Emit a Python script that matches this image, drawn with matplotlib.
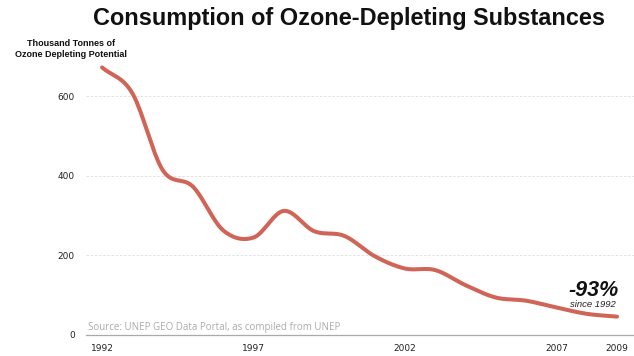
import matplotlib
matplotlib.use("Agg")
import matplotlib.pyplot as plt
import numpy as np

# Consumption of ozone-depleting substances, thousand tonnes ODP
YEARS = [1992, 1993, 1994, 1995, 1996, 1997, 1998, 1999, 2000, 2001,
         2002, 2003, 2004, 2005, 2006, 2007, 2008, 2009]
ODP_KT = [672, 607, 414, 372, 262, 244, 311, 260, 248, 197,
          166, 162, 124, 93, 85, 68, 52, 45]
YTICKS = [0, 200, 400, 600]
XTICKS = [1992, 1997, 2002, 2007, 2009]

LINE_COLOR = "#cf6457"


def _smooth(x, y, n=20):
    """Catmull-Rom curve through the yearly points, just for drawing."""
    x = np.asarray(x, float)
    y = np.asarray(y, float)
    m = np.gradient(y, x)
    xs, ys = [], []
    for i in range(len(x) - 1):
        h = x[i + 1] - x[i]
        t = np.linspace(0, 1, n, endpoint=False)
        h00 = 2 * t**3 - 3 * t**2 + 1
        h10 = t**3 - 2 * t**2 + t
        h01 = -2 * t**3 + 3 * t**2
        h11 = t**3 - t**2
        xs.append(x[i] + t * h)
        ys.append(h00 * y[i] + h10 * h * m[i] + h01 * y[i + 1] + h11 * h * m[i + 1])
    xs.append([x[-1]])
    ys.append([y[-1]])
    return np.concatenate(xs), np.concatenate(ys)


fig = plt.figure(figsize=(6.34, 3.56), dpi=100)
ax = fig.add_axes([86 / 634, (356 - 334.5) / 356, 1 - 86 / 634, (334.5 - 56.3) / 356])

sx, sy = _smooth(YEARS, ODP_KT)
ax.plot(sx, sy, color=LINE_COLOR, lw=2.9, solid_capstyle="round", zorder=3)

ax.set_xlim(1991.47, 2009.56)
ax.set_ylim(0, 700)

ax.set_yticks(YTICKS)
ax.set_yticklabels([str(v) for v in YTICKS])
ax.set_xticks(XTICKS)
ax.set_xticklabels([str(v) for v in XTICKS])
ax.tick_params(length=0, labelsize=6.5, colors="#222222", pad=7)
ax.tick_params(axis="y", pad=8)

for v in YTICKS[1:]:
    ax.axhline(v, color="#dddddd", lw=0.6, ls=(0, (3, 2)), zorder=1)

for side in ("top", "right", "left"):
    ax.spines[side].set_visible(False)
ax.spines["bottom"].set_color("#aaaaaa")
ax.spines["bottom"].set_linewidth(0.9)

fig.text(0.551, 0.93, "Consumption of Ozone-Depleting Substances",
         ha="center", va="baseline", fontsize=16.9, weight="bold",
         family="Liberation Sans", color="#111111")

fig.text(71 / 634, 1 - 49 / 356, "Thousand Tonnes of\nOzone Depleting Potential",
         ha="center", va="center", fontsize=6.5, weight="bold",
         family="Liberation Sans", color="#111111", linespacing=1.3)

ax.text(1991.52, 4, "Source: UNEP GEO Data Portal, as compiled from UNEP",
        ha="left", va="bottom", fontsize=7.0, family="Open Sans", color="#aaaaaa")

ax.text(2009.05, 98, "-93%", ha="right", va="baseline", fontsize=15.5,
        weight="bold", style="italic", family="Liberation Sans", color="#111111")
ax.text(2008.95, 69, "since 1992", ha="right", va="baseline", fontsize=6.8,
        style="italic", family="Liberation Sans", color="#222222")

fig.savefig("out.png", dpi=100)
